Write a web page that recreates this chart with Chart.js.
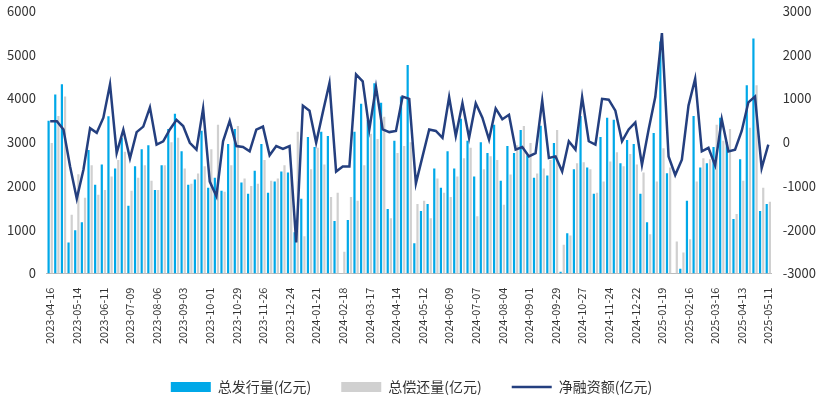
<!DOCTYPE html>
<html><head><meta charset="utf-8">
<script src="https://cdn.jsdelivr.net/npm/chart.js@4"></script>
<style>body{margin:0;background:#fff}#w{width:827px;height:414px}</style>
</head><body><div id="w"><canvas id="c"></canvas></div>
<script>
const issuance=[3490,4090,4320,710,990,1170,2820,2030,2490,3590,2400,3100,1550,2450,2840,2930,1910,2470,3300,3650,2790,2030,2150,3260,1960,2190,1890,2960,3300,2080,1820,2350,2960,1845,2100,2330,2310,940,1710,3120,2890,3235,3140,1200,0,1220,3235,3880,3500,4345,3900,1475,3030,4045,4760,690,1430,1590,2400,1960,2790,2400,3535,3030,2215,3000,2750,3400,2120,2910,2750,3280,2700,2190,3375,2240,2980,40,920,2380,3600,2420,1820,3120,3560,3510,2520,3050,2960,1820,1170,3210,5300,2290,0,110,1660,3600,2420,2520,2890,3560,3000,1245,2610,4300,5365,1430,1590];
const repayment=[2980,3600,4045,1340,2270,1730,2470,1800,1910,2215,2590,2780,1890,2190,2470,2120,1910,2470,3000,3100,2400,2050,2285,2450,2840,3400,1870,2470,3370,2170,2000,2050,2590,2120,2170,2470,2400,3235,850,2380,2870,2490,1750,1845,500,1750,1660,2470,3190,3070,3580,1265,2750,2910,3000,1590,1660,1265,2170,1845,1750,2215,2630,2870,1310,2380,2680,2590,1570,2260,2930,3370,2980,2285,2400,2590,3280,660,870,2520,2540,2380,1845,2100,2560,2770,2450,2730,2490,2310,895,2100,2860,2420,730,480,780,2100,2630,2610,3400,3030,3300,1360,2120,3330,4300,1960,1640];
const netFin=[480,480,290,-560,-1290,-630,320,215,560,1320,-250,285,-370,230,355,795,-55,20,290,510,370,-15,-170,770,-900,-1235,20,485,-90,-110,-210,285,355,-300,-90,-155,-90,-2290,835,720,-15,680,1350,-670,-555,-555,1550,1390,290,1260,290,230,255,1040,990,-940,-325,290,255,100,1030,140,890,100,890,560,60,770,525,625,-170,-110,-325,-250,950,-360,-325,-670,20,-170,1030,20,-55,990,970,720,20,290,450,-520,290,1030,2490,-325,-750,-400,835,1450,-210,-130,-530,525,-210,-170,255,910,1040,-595,-55];
const start=new Date(Date.UTC(2023,3,16));
const dates=issuance.map((_,i)=>new Date(start.getTime()+i*7*864e5).toISOString().slice(0,10));
const F='"Noto Sans CJK SC","Noto Sans",sans-serif';
new Chart(document.getElementById('c'),{
 type:'bar',
 data:{labels:dates,datasets:[
  {type:'line',label:'净融资额(亿元)',data:netFin,yAxisID:'y1',borderColor:'#243f7f',backgroundColor:'#243f7f',borderWidth:2.5,pointRadius:0,pointStyle:'line',tension:0,order:0},
  {label:'总发行量(亿元)',data:issuance,backgroundColor:'#00a8e8',pointStyle:'rect',yAxisID:'y',categoryPercentage:0.95,barPercentage:0.7,order:1},
  {label:'总偿还量(亿元)',data:repayment,backgroundColor:'#d0d0d0',pointStyle:'rect',yAxisID:'y',categoryPercentage:0.95,barPercentage:0.7,order:2}
 ]},
 options:{responsive:true,maintainAspectRatio:false,animation:false,
  layout:{padding:{left:4,right:8,top:4,bottom:10}},
  plugins:{legend:{position:'bottom',labels:{usePointStyle:true,pointStyleWidth:40,font:{family:F,size:14},color:'#333',boxHeight:10,padding:30,
    sort:(a,b)=>[1,2,0].indexOf(a.datasetIndex)-[1,2,0].indexOf(b.datasetIndex)}},tooltip:{enabled:false}},
  scales:{
   x:{grid:{display:false},border:{color:'#bbb'},ticks:{autoSkip:false,maxRotation:90,minRotation:90,padding:6,font:{family:F,size:11},color:'#333',
      callback:function(v,i){return i%4===0?this.getLabelForValue(v):'';}}},
   y:{min:0,max:6000,ticks:{stepSize:1000,font:{family:F,size:13},color:'#333',callback:v=>String(v)},grid:{display:false},border:{display:false}},
   y1:{position:'right',min:-3000,max:3000,ticks:{stepSize:1000,font:{family:F,size:13},color:'#333',callback:v=>String(v)},grid:{display:false},border:{display:false}}
  }}
});
</script></body></html>
